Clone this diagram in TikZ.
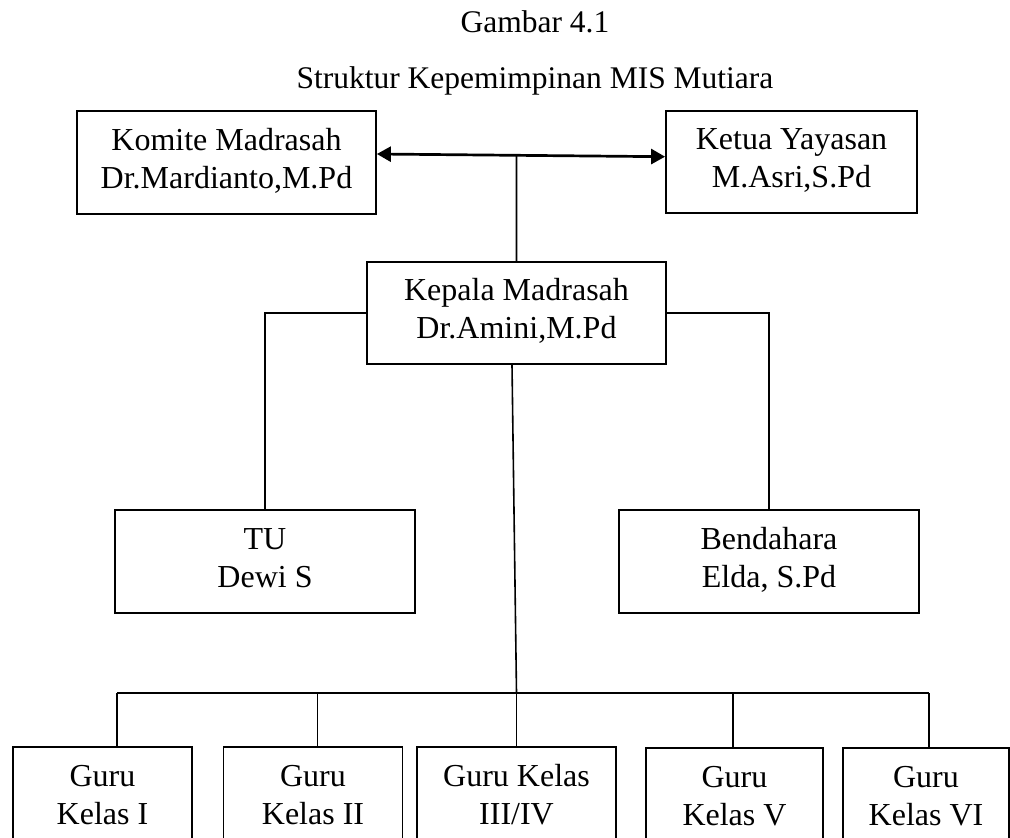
\documentclass[tikz,border=0pt]{standalone}
\usepackage{fontspec}
\setmainfont{Liberation Serif}
\usetikzlibrary{arrows.meta,calc}
\newcommand{\twolines}[2]{\rule{0pt}{22pt}#1\\#2\rule[-8.5pt]{0pt}{8.5pt}}
\begin{document}
\begin{tikzpicture}[x=1pt,y=-1pt,
  txt/.style={font=\fontsize{32}{38}\selectfont, align=center, inner sep=0pt},
  ttl/.style={font=\fontsize{31.5}{36}\selectfont, inner sep=0pt},
  box/.style={txt, draw, line width=1.8pt, minimum height=103pt},
  link/.style={line width=1.6pt},
  bilink/.style={line width=2.7pt, {Triangle[length=14pt,width=15pt]}-{Triangle[length=14pt,width=15pt]}}]
\clip (0,0) rectangle (1010,838);
\fill[white] (0,0) rectangle (1010,838);
% titles
\node[ttl, anchor=base] (t1) at (535,32) {Gambar 4.1};
\node[ttl, anchor=base] (t2) at (535,88) {Struktur Kepemimpinan MIS Mutiara};
% top boxes
\node[box, minimum width=299pt] (kom) at (226.5,162.5) {\twolines{Komite Madrasah}{Dr.Mardianto,M.Pd}};
\node[box, minimum width=251pt, minimum height=102.5pt] (ket) at (791.5,162) {\twolines{Ketua Yayasan}{M.Asri,S.Pd}};
\node[box, minimum width=299pt, minimum height=102pt] (kep) at (516.5,313) {\twolines{Kepala Madrasah}{Dr.Amini,M.Pd}};
\node[box, minimum width=300pt] (tu) at (265,561.5) {\twolines{TU}{Dewi S}};
\node[box, minimum width=300pt] (ben) at (769,561.5) {\twolines{Bendahara}{Elda, S.Pd}};
% bottom boxes
\node[box, minimum width=179pt] (g1) at (102.5,798.5) {\twolines{Guru}{Kelas I}};
\node[box, minimum width=179pt] (g2) at (313,798.5) {\twolines{Guru}{Kelas II}};
\node[box, minimum width=199pt] (g3) at (516.5,798.5) {\twolines{Guru Kelas}{III/IV}};
\node[box, minimum width=177pt] (g4) at (734.5,799.5) {\twolines{Guru}{Kelas V}};
\node[box, minimum width=166pt] (g5) at (926,799.5) {\twolines{Guru}{Kelas VI}};
% double arrow between committee and foundation
\coordinate (al) at ($(kom.east)+(0,-8.5)$);
\coordinate (ar) at ($(ket.west)+(0,-5.3)$);
\draw[bilink] (al) -- (ar);
\coordinate (j) at ($(al)!0.4845!(ar)$);
\draw[link] (j) -- (kep.north);
% side branches
\draw[link] (kep.west) -| (tu.north);
\draw[link] (kep.east) -| (ben.north);
% bus to teachers
\coordinate (d1) at (117,693);
\coordinate (d2) at (317.5,693);
\coordinate (d3) at (516.5,693);
\coordinate (d4) at (733,693);
\coordinate (d5) at (929,693);
\draw[link] ($(kep.south)+(-4.5,0)$) -- (d3);
\draw[link] (d1) -- (d5);
\draw[link] (d1) -- (d1 |- g1.north);
\draw[link] (d2) -- (d2 |- g2.north);
\draw[link] (d3) -- (g3.north);
\draw[link] (d4) -- (d4 |- g4.north);
\draw[link] (d5) -- (d5 |- g5.north);
\end{tikzpicture}
\end{document}
